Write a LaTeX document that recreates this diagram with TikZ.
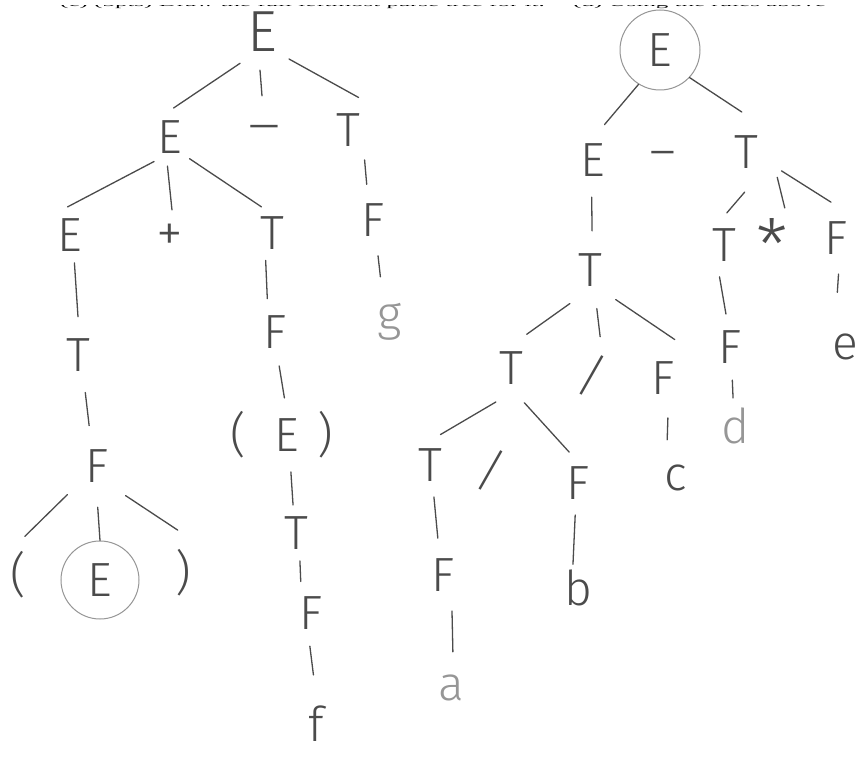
\documentclass[tikz,border=0pt]{standalone}
\usepackage{graphicx}
\usepackage{fontspec}
\setmainfont{Liberation Serif}
\newfontfamily\hand{Fira Sans Light}
\usetikzlibrary{positioning}
\definecolor{pencil}{RGB}{75,75,75}
\definecolor{softpencil}{RGB}{150,150,150}

\begin{document}
\begin{tikzpicture}[
  x=1pt, y=-1pt, on grid,
  sym/.style={circle, inner sep=0pt, minimum size=#1, text=pencil, font=\hand\fontsize{48}{48}\selectfont},
  sym/.default=64pt,
  faint/.style={text=softpencil},
  ring/.style={draw=softpencil, line width=1pt},
  edge/.style={draw=pencil, line width=1.3pt, line cap=round},
  question/.style={anchor=base west, inner sep=0pt, font=\fontsize{25}{25}\selectfont}
]
\useasboundingbox (0,0) rectangle (863,762);
\fill[white] (0,0) rectangle (863,762);

% Question line, only its lower edge shows
\node[question] (qc) at (60,7) {\scalebox{1}[0.4]{(c) (5pts) Draw the full leftmost parse tree for it.}};
\node[question] (qd) at (573,7) {\scalebox{1}[0.4]{(d) Using the rules above}};
\fill[white] (0,0) rectangle (863,5);

% Left tree
\node[sym=76pt, font=\hand\fontsize{58}{58}\selectfont] (le1) at (262,32) {E};
\node[sym=58pt] (le2) [below left=105pt and 92pt of le1] {E};
\node[sym=76pt] (lminus) [below right=102pt and 2pt of le1] {\scalebox{1.6}[1]{−}};
\node[sym=68pt] (lt1) [below right=98pt and 86pt of le1] {T};
\node[sym=56pt] (le3) [below left=98pt and 100pt of le2] {E};
\node[sym=56pt, font=\hand\fontsize{54}{54}\selectfont] (lplus) [below=101pt of le2] {+};
\node[sym=56pt] (lt2) [below right=96pt and 102pt of le2] {T};
\node[sym=72pt] (lf1) [below right=90pt and 25pt of lt1] {F};
\node[sym=92pt, faint] (lg) [below right=102pt and 17pt of lf1] {g};
\node[sym=76pt] (lt3) [below right=120pt and 8pt of le3] {T};
\node[sym=82pt] (lf2) [below right=111pt and 19pt of lt3] {F};
\node[sym=78pt] (llpar) [below left=109pt and 79pt of lf2] {(};
\node[sym=78pt, ring] (le4) [below right=114pt and 3pt of lf2] {E};
\node[sym=86pt] (lrpar) [below right=107pt and 86pt of lf2] {)};
\node[sym=68pt] (lf3) [below right=99pt and 3pt of lt2] {F};
\node[sym=74pt] (le5) [below right=103pt and 12pt of lf3] {E};
\node[sym] (lpl) [left=49pt of le5] {(};
\node[sym] (lpr) [right=38pt of le5] {)};
\node[sym=56pt] (lt4) [below right=98pt and 9pt of le5] {T};
\node[sym=66pt] (lf4) [below right=80pt and 15pt of lt4] {F};
\node[sym=98pt] (lf) [below right=111pt and 5pt of lf4] {f};

% Right tree
\node[sym=80pt, ring] (re1) at (660,50) {E};
\node[sym=74pt] (re2) [below left=110pt and 67pt of re1] {E};
\node[sym] (rminus) [right=70pt of re2] {\scalebox{1.3}[1]{−}};
\node[sym=80pt] (rt1) [below right=102pt and 86pt of re1] {T};
\node[sym=78pt] (rt2) [below left=110pt and 3pt of re2] {T};
\node[sym=64pt] (rt3) [below left=93pt and 22pt of rt1] {T};
\node[sym=78pt, font=\hand\fontsize{72}{72}\selectfont] (rstar) [right=48pt of rt3] {*};
\node[sym=72pt] (rf1) [below right=86pt and 90pt of rt1] {F};
\node[sym=66pt] (rf2) [below right=102pt and 6pt of rt3] {F};
\node[sym=56pt, faint] (rd) [below right=79pt and 6pt of rf2] {d};
\node[sym=110pt] (re) [below right=109pt and 9pt of rf1] {e};
\node[sym=74pt] (rt4) [below left=98pt and 79pt of rt2] {T};
\node[sym=78pt, rotate=-15] (rslash1) [below right=105pt and 2pt of rt2] {/};
\node[sym=80pt] (rf3) [below right=108pt and 73pt of rt2] {F};
\node[sym=78pt] (rc) [below right=100pt and 13pt of rf3] {c};
\node[sym=64pt] (rt5) [below left=97pt and 81pt of rt4] {T};
\node[sym, rotate=-15] (rslash2) [below left=102pt and 20pt of rt4] {/};
\node[sym=64pt] (rf4) [below right=115pt and 67pt of rt4] {F};
\node[sym=74pt] (rf5) [below right=110pt and 13pt of rt5] {F};
\node[sym=72pt, faint] (ra) [below right=113pt and 8pt of rf5] {a};
\node[sym=48pt] (rb) [below=105pt of rf4] {b};

% Branches, left tree
\draw[edge] (le1.-125) -- (le2.83);
\draw[edge] (le1.-93) -- (lminus.93);
\draw[edge] (le1.-45) -- (lt1.72);
\draw[edge] (le2.-123) -- (le3.95);
\draw[edge] (le2.-95) -- (lplus.86);
\draw[edge] (le2.-48) -- (lt2.112);
\draw[edge] (lt1.-61) -- (lf1.100);
\draw[edge] (lf1.-82) -- (lg.102);
\draw[edge] (le3.-81) -- (lt3.90);
\draw[edge] (lt3.-79) -- (lf2.101);
\draw[edge] (lf2.-136) -- (llpar.80);
\draw[edge] (lf2.-89) -- (le4.90);
\draw[edge] (lf2.-46) -- (lrpar.97);
\draw[edge] (lt2.-103) -- (lf3.103);
\draw[edge] (lf3.-83) -- (le5.94);
\draw[edge] (le5.-84) -- (lt4.96);
\draw[edge] (lt4.-82) -- (lf4.108);
\draw[edge] (lf4.-92) -- (lf.93);

% Branches, right tree
\draw[edge] (re1.-122) -- (re2.72);
\draw[edge] (re1.-43) -- (rt1.96);
\draw[edge] (re2.-92) -- (rt2.87);
\draw[edge] (rt1.-92) -- (rt3.85);
\draw[edge] (rt1.-39) -- (rstar.71);
\draw[edge] (rt1.-28) -- (rf1.98);
\draw[edge] (rt3.-98) -- (rf2.97);
\draw[edge] (rf2.-86) -- (rd.96);
\draw[edge] (rf1.-86) -- (re.98);
\draw[edge] (rt2.-121) -- (rt4.65);
\draw[edge] (rt2.-80) -- (rslash1.93);
\draw[edge] (rt2.-49) -- (rf3.73);
\draw[edge] (rf3.-83) -- (rc.103);
\draw[edge] (rt4.-114) -- (rt5.71);
\draw[edge] (rt4.-69) -- (rf4.106);
\draw[edge] (rt5.-83) -- (rf5.98);
\draw[edge] (rf5.-76) -- (ra.87);
\draw[edge] (rf4.-95) -- (rb.102);

\end{tikzpicture}
\end{document}
